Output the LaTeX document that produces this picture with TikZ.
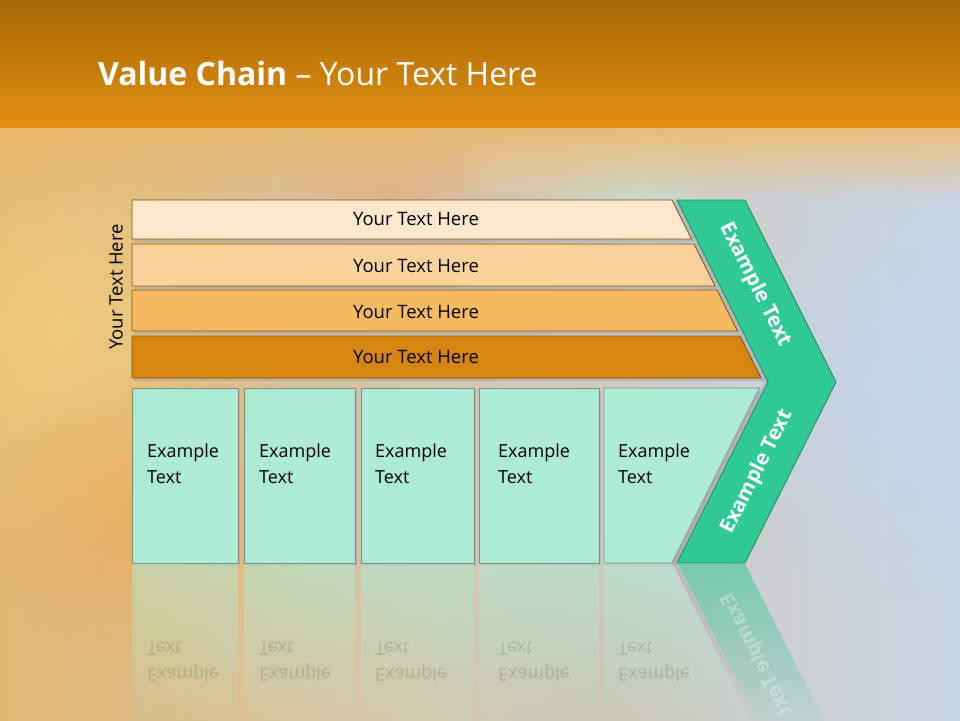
\documentclass[tikz,border=0pt]{standalone}
\usepackage{fontspec}
\setmainfont{Open Sans}
\usetikzlibrary{fadings}
\definecolor{bgL}{HTML}{E4B872}
\definecolor{bgM}{HTML}{D3C7B2}
\definecolor{bgR}{HTML}{C9D5E6}
\definecolor{bandT}{HTML}{A46805}
\definecolor{bandB}{HTML}{E28E0F}
\definecolor{barA}{HTML}{FDE8CD}
\definecolor{barB}{HTML}{FAD39A}
\definecolor{barC}{HTML}{F8BA60}
\definecolor{barD}{HTML}{D6850F}
\definecolor{barLine}{HTML}{7A5210}
\definecolor{boxFill}{HTML}{AEEBD5}
\definecolor{boxLine}{HTML}{7F8A86}
\definecolor{chev}{HTML}{2FC994}
\definecolor{chevLine}{HTML}{1F8A62}
\definecolor{blobY}{HTML}{F2CE7A}
\definecolor{blobB}{HTML}{C2D6F4}
\definecolor{blobP}{HTML}{EFA070}
\definecolor{blobG}{HTML}{BFE8D8}
\definecolor{blobS}{HTML}{C4BCA8}
\tikzfading[name=fadedown, top color=transparent!0, bottom color=transparent!100]
\tikzfading[name=reflfade, top color=transparent!45, middle color=transparent!85, bottom color=transparent!100]
\tikzfading[name=blob, inner color=transparent!25, outer color=transparent!100]
\tikzset{
  barshape/.style={draw=barLine, line width=0.8pt},
  boxshape/.style={draw=boxLine, fill=boxFill, line width=0.8pt},
  chevshape/.style={draw=chevLine, fill=chev, line width=0.8pt},
  shadowshape/.style={fill=gray!70!white, fill opacity=0.55},
  bartext/.style={font=\fontsize{18.5}{22}\selectfont, text=black, inner sep=0pt},
  boxtext/.style={font=\fontsize{18}{26}\selectfont, text=black, align=left, inner sep=0pt, anchor=north west},
  chevtext/.style={font=\fontsize{20.5}{24}\selectfont\bfseries, text=white, inner sep=0pt},
  refltext/.style={font=\fontsize{18}{26}\selectfont, text=black!70, text opacity=0.22, align=left, inner sep=0pt, anchor=north west, yscale=-1},
  reflshape/.style={path fading=reflfade},
}
\begin{document}
\begin{tikzpicture}[x=1pt,y=-1pt]
\useasboundingbox (0,0) rectangle (960,720);
% ---------- background ----------
\fill[left color=bgL, right color=bgR, middle color=bgM] (-5,-5) rectangle (965,725);
\fill[blobY, path fading=blob] (60,330) circle[radius=230];
\fill[fill=orange!80!white, path fading=blob, opacity=0.5] (150,520) circle[radius=160];
\fill[fill=blobP, path fading=blob, opacity=0.7] (390,200) circle[radius=110];
\fill[fill=blobG, path fading=blob, opacity=0.7] (640,210) circle[radius=100];
\fill[fill=blobB, path fading=blob, opacity=0.8] (900,380) circle[radius=220];
\fill[fill=blobS, path fading=blob, opacity=0.6] (600,700) circle[radius=170];
% top band
\fill[color=bandB!60!white, path fading=fadedown] (-5,120) rectangle (965,200);
\fill[top color=bandT, bottom color=bandB] (-5,-5) rectangle (965,127);
% title
\node[anchor=base west, inner sep=0pt, text=white, font=\fontsize{32}{38}\selectfont] (title) at (98,85) {\textbf{Value Chain} – Your Text Here};
% ---------- left label ----------
\node[rotate=90, font=\fontsize{18.5}{22}\selectfont, inner sep=0pt] (sidelabel) at (116,287) {Your Text Here};
% ---------- shadows ----------
\begin{scope}[shift={(2,3)}]
\fill[shadowshape] (132,200) -- (672,200) -- (691.5,239) -- (132,239) -- cycle;
\fill[shadowshape] (132,244) -- (694,244) -- (715,286) -- (132,286) -- cycle;
\fill[shadowshape] (132,290) -- (717,290) -- (737.5,331) -- (132,331) -- cycle;
\fill[shadowshape] (132,336) -- (740,336) -- (761,378) -- (132,378) -- cycle;
\fill[shadowshape] (132,388) rectangle (238,563);
\fill[shadowshape] (244,388) rectangle (355,563);
\fill[shadowshape] (361,388) rectangle (474,563);
\fill[shadowshape] (479,388) rectangle (599,563);
\fill[shadowshape] (604,388) -- (759.5,388) -- (672,563) -- (604,563) -- cycle;
\end{scope}
\fill[shadowshape, shift={(-4,1)}] (677,200) -- (745,200) -- (836,382) -- (745,563) -- (677,563) -- (768,382) -- cycle;
% ---------- bars ----------
\path[barshape, fill=barA] (132,200) -- (672,200) -- (691.5,239) -- (132,239) -- cycle;
\path[barshape, fill=barB] (132,244) -- (694,244) -- (715,286) -- (132,286) -- cycle;
\path[barshape, fill=barC] (132,290) -- (717,290) -- (737.5,331) -- (132,331) -- cycle;
\path[barshape, fill=barD] (132,336) -- (740,336) -- (761,378) -- (132,378) -- cycle;
\node[bartext] (b1) at (416,219) {Your Text Here};
\node[bartext] (b2) at (416,266) {Your Text Here};
\node[bartext] (b3) at (416,311.5) {Your Text Here};
\node[bartext] (b4) at (416,357) {Your Text Here};
% ---------- boxes ----------
\path[boxshape] (132,388) rectangle (238,563);
\path[boxshape] (244,388) rectangle (355,563);
\path[boxshape] (361,388) rectangle (474,563);
\path[boxshape] (479,388) rectangle (599,563);
\path[boxshape] (604,388) -- (759.5,388) -- (672,563) -- (604,563) -- cycle;
\node[boxtext] (t1) at (147,444) {Example\\Text};
\node[boxtext] (t2) at (259,444) {Example\\Text};
\node[boxtext] (t3) at (375,444) {Example\\Text};
\node[boxtext] (t4) at (498,444) {Example\\Text};
\node[boxtext] (t5) at (618,444) {Example\\Text};
% ---------- chevron ----------
\path[chevshape] (677,200) -- (745,200) -- (836,382) -- (745,563) -- (677,563) -- (768,382) -- cycle;
\node[chevtext, rotate=-63.43] (c1) at (755,285) {Example Text};
\node[chevtext, rotate=63.43] (c2) at (757,472) {Example Text};
% ---------- reflection ----------
\fill[boxFill, reflshape] (132,564) rectangle (238,739);
\fill[boxFill, reflshape] (244,564) rectangle (355,739);
\fill[boxFill, reflshape] (361,564) rectangle (474,739);
\fill[boxFill, reflshape] (479,564) rectangle (599,739);
\fill[boxFill, reflshape] (604,564) -- (672,564) -- (759.5,739) -- (604,739) -- cycle;
\fill[gray!70!white, reflshape] (673,564) -- (677,564) -- (767,744) -- (763,744) -- cycle;
\fill[chev, reflshape] (678,564) -- (745,564) -- (836,744) -- (768,744) -- cycle;
\node[refltext] (r1) at (147,682) {Example\\Text};
\node[refltext] (r2) at (259,682) {Example\\Text};
\node[refltext] (r3) at (375,682) {Example\\Text};
\node[refltext] (r4) at (498,682) {Example\\Text};
\node[refltext] (r5) at (618,682) {Example\\Text};
\node[chevtext, text opacity=0.3, rotate=-63.43, yscale=-1] (rc) at (757,654) {Example Text};
\end{tikzpicture}
\end{document}
